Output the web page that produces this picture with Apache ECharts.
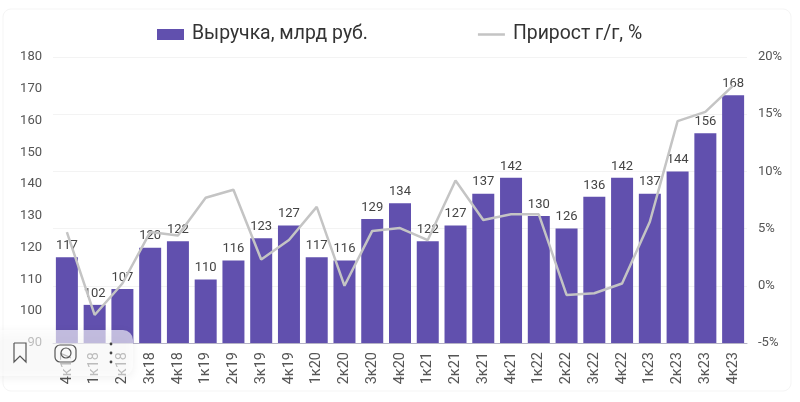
<!DOCTYPE html>
<html>
<head>
<meta charset="utf-8">
<style>html,body{margin:0;padding:0;background:#fff}#chart{width:800px;height:402px}</style>
<script src="https://cdn.jsdelivr.net/npm/echarts@6/dist/echarts.min.js"></script>
</head>
<body>
<div id="chart"></div>
<script>
var categories = ['4к17','1к18','2к18','3к18','4к18','1к19','2к19','3к19','4к19','1к20','2к20','3к20','4к20','1к21','2к21','3к21','4к21','1к22','2к22','3к22','4к22','1к23','2к23','3к23','4к23'];
var revenue = [117,102,107,120,122,110,116,123,127,117,116,129,134,122,127,137,142,130,126,136,142,137,144,156,168];
var growth = [4.7,-2.55,0.2,4.7,4.4,7.7,8.4,2.3,4.0,6.9,0,4.8,5.05,4.0,9.2,5.75,6.25,6.25,-0.8,-0.65,0.2,5.6,14.4,15.2,17.5];
var revenueName = 'Выручка, млрд руб.';
var growthName = 'Прирост г/г, %';

var myChart = echarts.init(document.getElementById('chart'));
var font = 'Roboto';
var option = {
	animation:false,
	backgroundColor:'#fff',
	textStyle:{fontFamily:font},
	legend:{
		left:152,top:20,itemWidth:27,itemHeight:11,itemGap:110,
		textStyle:{fontFamily:font,fontSize:19.4,color:'#333',padding:[0,0,0,3]},
		data:[
			{name:revenueName,icon:'rect'},
			// тонкая линия в легенде: крайние полоски только задают высоту значка
			{name:growthName,icon:'path://M0 0H27V0.01H0Z M0 4.2H27V6.8H0Z M0 10.99H27V11H0Z',itemStyle:{color:'#c4c4c4'}}
		]
	},
	grid:{left:53,right:53,top:57,bottom:59},
	xAxis:{
		type:'category',data:categories,
		axisTick:{show:false},
		axisLine:{onZero:false,lineStyle:{color:'#b5b2c6',width:1}},
		axisLabel:{rotate:90,interval:0,fontSize:14.5,color:'#555',margin:9}
	},
	yAxis:[
		{type:'value',min:90,max:180,interval:10,splitLine:{show:false},axisLine:{show:false},axisTick:{show:false},
			axisLabel:{fontSize:13,color:'#555',margin:11}},
		{type:'value',min:-5,max:20,interval:5,splitLine:{show:true,lineStyle:{color:'#f3f3f3'}},axisLine:{show:false},axisTick:{show:false},
			axisLabel:{fontSize:13,color:'#555',margin:11,formatter:'{value}%'}}
	],
	series:[
		{name:revenueName,type:'bar',data:revenue,barWidth:22,itemStyle:{color:'#6150ae'},
			label:{show:true,position:'top',distance:5,fontSize:13,color:'#444'}},
		{name:growthName,type:'line',yAxisIndex:1,data:growth,symbol:'none',smooth:false,
			lineStyle:{color:'#c4c4c4',width:2.5},itemStyle:{color:'#c4c4c4'}}
	],
	graphic:[
		// рамка карточки
		{type:'rect',silent:true,z:-1,shape:{x:3,y:9,width:788,height:382,r:8},style:{fill:'#fff',stroke:'#f5f5f5',lineWidth:1}},
		// плашка скриншота поверх графика
		{type:'rect',silent:true,z:100,shape:{x:-8,y:330,width:141,height:46,r:10},
			style:{fill:'rgba(255,255,255,0.62)',shadowBlur:10,shadowColor:'rgba(0,0,0,0.10)',shadowOffsetY:2}},
		{type:'polyline',silent:true,z:101,shape:{points:[[14,343],[26,343],[26,362],[20,356],[14,362],[14,343]]},style:{fill:'none',stroke:'#555',lineWidth:1.2}},
		{type:'rect',silent:true,z:101,shape:{x:55,y:345,width:21,height:17,r:5},style:{fill:'none',stroke:'#555',lineWidth:1.2}},
		{type:'circle',silent:true,z:101,shape:{cx:66,cy:353,r:5},style:{fill:'none',stroke:'#555',lineWidth:1.2}},
		{type:'circle',silent:true,z:101,shape:{cx:111,cy:344,r:1.4},style:{fill:'#444'}},
		{type:'circle',silent:true,z:101,shape:{cx:111,cy:353,r:1.4},style:{fill:'#444'}},
		{type:'circle',silent:true,z:101,shape:{cx:111,cy:362,r:1.4},style:{fill:'#444'}}
	]
};
myChart.setOption(option);
</script>
</body>
</html>
